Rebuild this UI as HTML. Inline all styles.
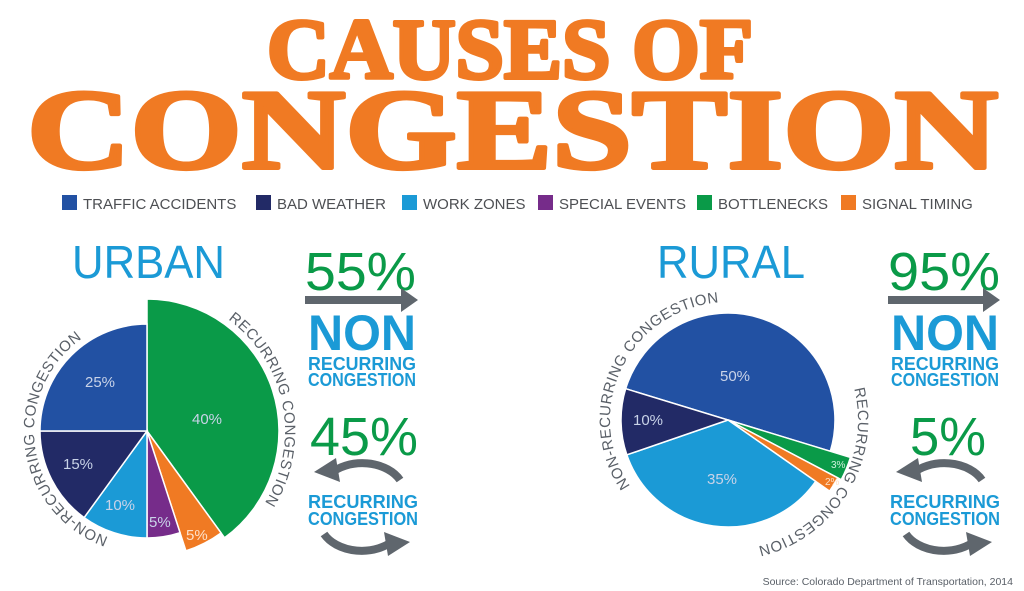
<!DOCTYPE html>
<html><head><meta charset="utf-8"><style>
html,body{margin:0;padding:0;background:#fff}
svg{display:block}
text{font-family:"Liberation Sans",sans-serif}
.t{font-family:"Liberation Serif",serif;font-weight:bold;fill:#f07a23;stroke:#f07a23;stroke-width:4;stroke-linejoin:round}
.lg{font-size:15px;fill:#4d4f53}
.pl{font-size:15px;fill:#c9d3e8}
.cl{font-size:15px;fill:#5a6068;letter-spacing:0.5px}
.g{fill:#0a9a48}
.b{fill:#1b9ad6}
</style></head><body>
<svg id="s" width="1024" height="591" viewBox="0 0 1024 591" xmlns="http://www.w3.org/2000/svg">
<defs>
<path id="p1" d=""/><path id="p2" d=""/><path id="p3" d=""/><path id="p4" d=""/>
</defs>
<text class="t" x="267" y="78" font-size="86" textLength="486" lengthAdjust="spacingAndGlyphs">CAUSES OF</text>
<text class="t" x="27" y="168" font-size="114" textLength="971" lengthAdjust="spacingAndGlyphs">CONGESTION</text>

<rect x="62" y="195" width="15" height="15" fill="#2251a3"/><text class="lg" x="83" y="209">TRAFFIC ACCIDENTS</text>
<rect x="256" y="195" width="15" height="15" fill="#222a66"/><text class="lg" x="277" y="209">BAD WEATHER</text>
<rect x="402" y="195" width="15" height="15" fill="#1b9ad6"/><text class="lg" x="423" y="209">WORK ZONES</text>
<rect x="538" y="195" width="15" height="15" fill="#762c8a"/><text class="lg" x="559" y="209">SPECIAL EVENTS</text>
<rect x="697" y="195" width="15" height="15" fill="#0a9a48"/><text class="lg" x="718" y="209">BOTTLENECKS</text>
<rect x="841" y="195" width="15" height="15" fill="#f07a23"/><text class="lg" x="862" y="209">SIGNAL TIMING</text>

<text class="b" x="72" y="278" font-size="46" textLength="153" lengthAdjust="spacingAndGlyphs">URBAN</text>
<text class="b" x="657" y="278" font-size="46" textLength="148" lengthAdjust="spacingAndGlyphs">RURAL</text>

<g id="pies"></g>

<text class="cl"><textPath href="#p1">RECURRING CONGESTION</textPath></text>
<text class="cl"><textPath href="#p2">NON-RECURRING CONGESTION</textPath></text>
<text class="cl"><textPath href="#p3">NON-RECURRING CONGESTION</textPath></text>
<text class="cl"><textPath href="#p4">RECURRING CONGESTION</textPath></text>

<text class="pl" x="85" y="387">25%</text>
<text class="pl" x="192" y="424">40%</text>
<text class="pl" x="63" y="469">15%</text>
<text class="pl" x="105" y="510">10%</text>
<text class="pl" x="149" y="527">5%</text>
<text class="pl" x="186" y="540" style="fill:#fde0c8">5%</text>
<text class="pl" x="720" y="381">50%</text>
<text class="pl" x="633" y="425">10%</text>
<text class="pl" x="707" y="484">35%</text>
<text x="831" y="468" font-size="10" fill="#d0f0dc">3%</text>
<text x="825" y="485" font-size="10" fill="#fde0c8">2%</text>

<text class="g" x="305" y="290" font-size="54" textLength="111" lengthAdjust="spacingAndGlyphs">55%</text>
<path d="M305 296h96v-8l17 12-17 12v-8h-96z" fill="#5f666d"/>
<text class="b" x="308" y="350" font-size="50" font-weight="bold" textLength="108" lengthAdjust="spacingAndGlyphs">NON</text>
<text class="b" x="308" y="370" font-size="18" font-weight="bold" textLength="108" lengthAdjust="spacingAndGlyphs">RECURRING</text>
<text class="b" x="308" y="386" font-size="18" font-weight="bold" textLength="108" lengthAdjust="spacingAndGlyphs">CONGESTION</text>
<text class="g" x="310" y="455" font-size="54" textLength="108" lengthAdjust="spacingAndGlyphs">45%</text>
<text class="b" x="308" y="508" font-size="18" font-weight="bold" textLength="110" lengthAdjust="spacingAndGlyphs">RECURRING</text>
<text class="b" x="308" y="525" font-size="18" font-weight="bold" textLength="110" lengthAdjust="spacingAndGlyphs">CONGESTION</text>
<g id="cyc1"></g>

<text class="g" x="888" y="290" font-size="54" textLength="112" lengthAdjust="spacingAndGlyphs">95%</text>
<path d="M888 296h95v-8l17 12-17 12v-8h-95z" fill="#5f666d"/>
<text class="b" x="891" y="350" font-size="50" font-weight="bold" textLength="108" lengthAdjust="spacingAndGlyphs">NON</text>
<text class="b" x="891" y="370" font-size="18" font-weight="bold" textLength="108" lengthAdjust="spacingAndGlyphs">RECURRING</text>
<text class="b" x="891" y="386" font-size="18" font-weight="bold" textLength="108" lengthAdjust="spacingAndGlyphs">CONGESTION</text>
<text class="g" x="910" y="455" font-size="54" textLength="76" lengthAdjust="spacingAndGlyphs">5%</text>
<text class="b" x="890" y="508" font-size="18" font-weight="bold" textLength="110" lengthAdjust="spacingAndGlyphs">RECURRING</text>
<text class="b" x="890" y="525" font-size="18" font-weight="bold" textLength="110" lengthAdjust="spacingAndGlyphs">CONGESTION</text>
<g id="cyc2"></g>

<text x="1013" y="585" font-size="10.5" fill="#5a6068" text-anchor="end">Source: Colorado Department of Transportation, 2014</text>
</svg>
<script>
var NS="http://www.w3.org/2000/svg";
function pt(cx,cy,r,a){a=a*Math.PI/180;return [cx+r*Math.sin(a),cy-r*Math.cos(a)];}
function wedge(cx,cy,r,a0,a1,col){
 var p0=pt(cx,cy,r,a0),p1=pt(cx,cy,r,a1),l=(a1-a0)>180?1:0;
 var e=document.createElementNS(NS,"path");
 e.setAttribute("d","M"+cx+" "+cy+"L"+p0+"A"+r+" "+r+" 0 "+l+" 1 "+p1+"Z");
 e.setAttribute("fill",col);e.setAttribute("stroke","#fff");e.setAttribute("stroke-width","1.5");
 document.getElementById("pies").appendChild(e);}
function arc(id,cx,cy,r,a0,a1){
 var p0=pt(cx,cy,r,a0),p1=pt(cx,cy,r,a1),l=(a1-a0)>180?1:0;
 document.getElementById(id).setAttribute("d","M"+p0+"A"+r+" "+r+" 0 "+l+" 1 "+p1);}
var ux=147,uy=431;
wedge(ux,uy,132,0,144,"#0a9a48");
wedge(ux,uy,126,144,162,"#f07a23");
wedge(ux,uy,107,162,180,"#762c8a");
wedge(ux,uy,107,180,216,"#1b9ad6");
wedge(ux,uy,107,216,270,"#222a66");
wedge(ux,uy,107,270,360,"#2251a3");
var rx=728,ry=420;
wedge(rx,ry,107,287,467,"#2251a3");
wedge(rx,ry,128,107,117.8,"#0a9a48");
wedge(rx,ry,124,117.8,125,"#f07a23");
wedge(rx,ry,107,125,251,"#1b9ad6");
wedge(rx,ry,107,251,287,"#222a66");
arc("p1",ux,uy,138,36,150);
arc("p2",ux,uy,113,200,345);
arc("p3",rx,ry,118,236,360);
arc("p4",rx,ry,130,76,200);
function cyc(id,cx,cy){
 var g=document.getElementById(id);
 g.innerHTML='<path d="M'+(cx-32)+' '+(cy-12)+'A42 30 0 0 1 '+(cx+38)+' '+(cy-6)+'" fill="none" stroke="#5f666d" stroke-width="8"/>'+
 '<path d="M'+(cx-48)+' '+(cy-14)+'l22 -14l4 24z" fill="#5f666d"/>'+
 '<path d="M'+(cx+32)+' '+(cy+54)+'A42 30 0 0 1 '+(cx-38)+' '+(cy+48)+'" fill="none" stroke="#5f666d" stroke-width="8"/>'+
 '<path d="M'+(cx+48)+' '+(cy+56)+'l-22 14l-4 -24z" fill="#5f666d"/>';}
cyc("cyc1",362,486);
cyc("cyc2",944,486);
</script>
</body></html>
